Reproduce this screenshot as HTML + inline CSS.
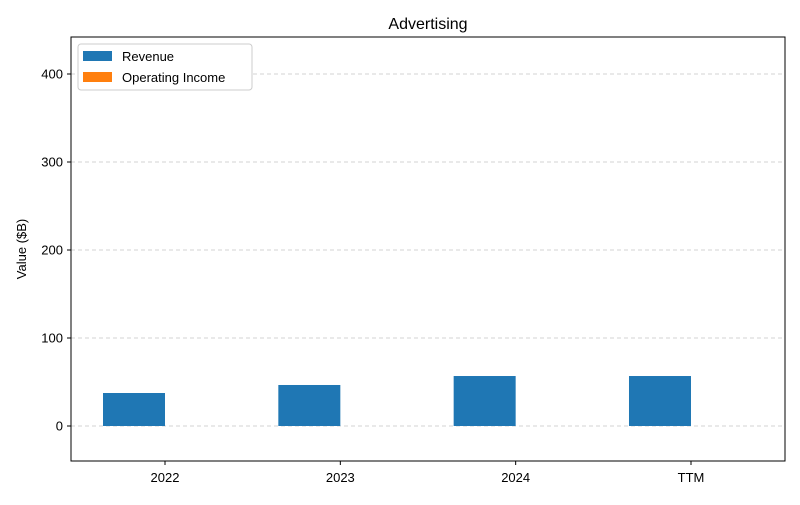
<!DOCTYPE html>
<html><head><meta charset="utf-8"><style>
body{margin:0;background:#fff;font-family:"Liberation Sans","DejaVu Sans",sans-serif;}
svg text{font-family:"Liberation Sans","DejaVu Sans",sans-serif;}
</style></head><body>
<svg id="c" width="800" height="500" xmlns="http://www.w3.org/2000/svg">
<rect width="800" height="500" fill="#fff"/>
<text x="428" y="29" font-size="16" text-anchor="middle">Advertising</text>
<text transform="translate(26,249) rotate(-90)" font-size="13" text-anchor="middle">Value ($B)</text>
<g id="grid"></g><g id="bars"></g><g id="ticks"></g>
<rect x="71" y="37" width="714" height="424" fill="none" stroke="#000" stroke-width="1"/>
<g>
<rect x="78" y="44" width="174" height="46" fill="#fff" stroke="#ccc" rx="3"/>
<rect x="83" y="51" width="29" height="10" fill="#1f77b4"/>
<text x="122" y="61" font-size="13">Revenue</text>
<rect x="83" y="72" width="29" height="10" fill="#ff7f0e"/>
<text x="122" y="82" font-size="13">Operating Income</text>
</g>
</svg>
<script>
const categories=["2022","2023","2024","TTM"];
const revenue=[37.5,46.6,56.8,56.8];
const operatingIncome=[0,0,0,0];
const yTicks=[0,100,200,300,400];
const NS="http://www.w3.org/2000/svg";
function y(v){return 426-v*0.88;}
function xc(i){return 165+175.33*i;}
const bw=62;
function mk(tag,attrs,parent){const e=document.createElementNS(NS,tag);for(const k in attrs)e.setAttribute(k,attrs[k]);document.getElementById(parent).appendChild(e);return e;}
yTicks.forEach(t=>{
 const g=mk("line",{x1:71,x2:785,y1:y(t),y2:y(t),stroke:"#d3d3d3","stroke-dasharray":"4,3"},"grid");
 
 
 const tk=mk("line",{x1:67,x2:71,y1:y(t),y2:y(t),stroke:"#000"},"ticks");
 
 
 const tx=mk("text",{x:63,y:y(t)+4.5,"font-size":13,"text-anchor":"end"},"ticks");
 tx.textContent=t;
 
 
});
categories.forEach((c,i)=>{
 const r=revenue[i];
 const b=mk("rect",{x:xc(i)-bw,y:Math.min(y(r),y(0)),width:bw,height:Math.abs(y(r)-y(0)),fill:"#1f77b4"},"bars");
 
 
 const o=operatingIncome[i];
 const b2=mk("rect",{x:xc(i),y:Math.min(y(o),y(0)),width:bw,height:Math.abs(y(o)-y(0)),fill:"#ff7f0e"},"bars");
 
 
 const tk=mk("line",{x1:xc(i),x2:xc(i),y1:461,y2:465,stroke:"#000"},"ticks");
 
 
 const tx=mk("text",{x:xc(i),y:482,"font-size":13,"text-anchor":"middle"},"ticks");
 tx.textContent=c;
 
 
});
</script>
</body></html>
